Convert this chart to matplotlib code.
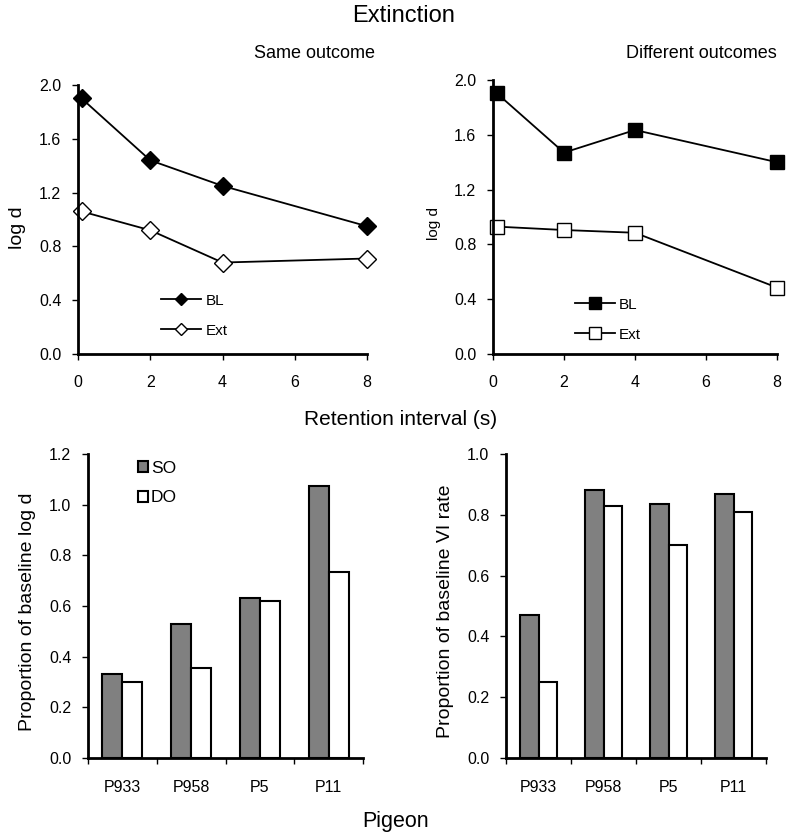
import matplotlib
matplotlib.use('Agg')
import matplotlib.pyplot as plt
import numpy as np

plt.rcParams['font.family'] = ['Liberation Sans', 'DejaVu Sans']

# retention intervals (s)
ri = [0.1, 2, 4, 8]

# Same outcome (log d)
so_bl = [1.90, 1.44, 1.25, 0.95]
so_ext = [1.06, 0.92, 0.68, 0.71]

# Different outcomes (log d)
do_bl = [1.905, 1.47, 1.635, 1.40]
do_ext = [0.93, 0.905, 0.885, 0.485]

pigeons = ['P933', 'P958', 'P5', 'P11']
prop_logd_so = [0.33, 0.53, 0.63, 1.075]
prop_logd_do = [0.30, 0.355, 0.62, 0.735]
prop_vi_so = [0.47, 0.88, 0.835, 0.87]
prop_vi_do = [0.25, 0.83, 0.70, 0.81]

W, H = 797, 835
fig = plt.figure(figsize=(W / 100, H / 100), dpi=100)


def px_rect(x0, y0, x1, y1):
    # pixel box (top-left origin) -> figure fraction
    return [x0 / W, 1 - y1 / H, (x1 - x0) / W, (y1 - y0) / H]


def ftext(x, y, s, **kw):
    fig.text(x / W, 1 - y / H, s, **kw)


def style(ax):
    for s in ['top', 'right']:
        ax.spines[s].set_visible(False)
    for s in ['left', 'bottom']:
        ax.spines[s].set_linewidth(2)
    ax.tick_params(direction='out', length=4, width=1, labelsize=11.5)
    ax.tick_params(axis='y', pad=8)


def line_panel(rect, bl, ext, marker, ms, lms, anchor):
    ax = fig.add_axes(rect)
    style(ax)
    ax.plot(ri, bl, '-', color='black', lw=1.3, marker=marker, ms=ms,
            mfc='black', mec='black', clip_on=False)
    ax.plot(ri, ext, '-', color='black', lw=1.3, marker=marker, ms=ms,
            mfc='white', mec='black', mew=1.0, clip_on=False)
    ax.set_xlim(0, 8)
    ax.set_ylim(0, 2.0)
    ax.set_xticks([0, 2, 4, 6, 8])
    ax.set_yticks(np.arange(0, 2.01, 0.4))
    ax.yaxis.set_major_formatter(matplotlib.ticker.FormatStrFormatter('%.1f'))
    ax.tick_params(axis='x', pad=11)
    h1, = ax.plot([], [], '-', color='black', lw=1.3, marker=marker, ms=lms,
                  mfc='black', mec='black')
    h2, = ax.plot([], [], '-', color='black', lw=1.3, marker=marker, ms=lms,
                  mfc='white', mec='black')
    ax.legend([h1, h2], ['BL', 'Ext'], loc='lower left', bbox_to_anchor=anchor,
              frameon=False, fontsize=11, handlelength=2.6,
              handletextpad=0.3, labelspacing=1.05)
    return ax


line_panel(px_rect(78, 85, 367, 354), so_bl, so_ext, 'D', 9, 6, (0.24, 0.01))
line_panel(px_rect(493, 80, 777, 354), do_bl, do_ext, 's', 10, 8, (0.24, -0.005))

ftext(375, 53, 'Same outcome', ha='right', va='center', fontsize=13)
ftext(777, 53, 'Different outcomes', ha='right', va='center', fontsize=13)
ftext(17, 228, 'log d', rotation=90, ha='center', va='center', fontsize=14)
ftext(434, 223, 'log d', rotation=90, ha='center', va='center', fontsize=11)


def bar_panel(rect, so, do, ymax, legend):
    ax = fig.add_axes(rect)
    style(ax)
    x = np.arange(len(pigeons))
    w = 0.29
    b1 = ax.bar(x - w / 2, so, w, color='#808080', edgecolor='black', lw=1.5)
    b2 = ax.bar(x + w / 2, do, w, color='white', edgecolor='black', lw=1.5)
    ax.set_xlim(-0.5, len(pigeons) - 0.5)
    ax.set_ylim(0, ymax)
    ax.set_yticks(np.arange(0, ymax + 0.001, 0.2))
    ax.yaxis.set_major_formatter(matplotlib.ticker.FormatStrFormatter('%.1f'))
    ax.set_xticks(np.arange(-0.5, len(pigeons)))
    ax.set_xticklabels([])
    ax.set_xticks(x, minor=True)
    ax.set_xticklabels(pigeons, minor=True)
    ax.tick_params(axis='x', which='minor', length=0, pad=16, labelsize=11.5)
    if legend:
        ax.legend([b1, b2], ['SO', 'DO'], loc='upper left',
                  bbox_to_anchor=(0.125, 1.03), frameon=False,
                  fontsize=12.5, handlelength=0.6, handleheight=0.6,
                  handletextpad=0.15, labelspacing=0.85)
    return ax


bar_panel(px_rect(88, 454, 363, 758), prop_logd_so, prop_logd_do, 1.2, True)
bar_panel(px_rect(506, 454, 766, 758), prop_vi_so, prop_vi_do, 1.0, False)

ftext(28, 612, 'Proportion of baseline log d', rotation=90, ha='center',
      va='center', fontsize=14)
ftext(445, 611, 'Proportion of baseline VI rate', rotation=90, ha='center',
      va='center', fontsize=14)

ftext(404, 16, 'Extinction', ha='center', va='center', fontsize=17)
ftext(401, 419, 'Retention interval (s)', ha='center', va='center', fontsize=15)
ftext(396, 821, 'Pigeon', ha='center', va='center', fontsize=15.5)

fig.savefig('out.png', dpi=100)
